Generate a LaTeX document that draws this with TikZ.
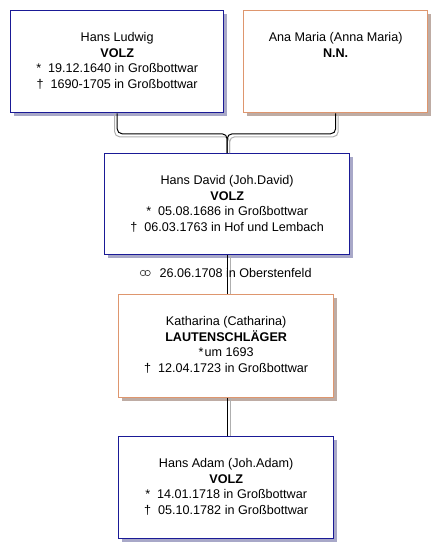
\documentclass[tikz,border=0pt]{standalone}
\usepackage{fontspec}
\setmainfont{Liberation Sans}
\usepackage{tikz}
\usetikzlibrary{calc, shadows}

\definecolor{boxblue}{RGB}{26,26,150}
\definecolor{boxorange}{RGB}{222,150,110}
\definecolor{shadeblue}{RGB}{168,168,200}
\definecolor{shadeorange}{RGB}{190,172,164}
\definecolor{linkgray}{RGB}{175,175,175}

\begin{document}
\begin{tikzpicture}[x=1pt, y=-1pt, font=\fontsize{12.6}{15.6}\selectfont,
  person/.style 2 args={draw, line width=1.3pt, fill=white, inner sep=0pt, anchor=north west,
    execute at begin node={\begin{minipage}[t][#2][t]{#1}\centering\vspace*{22pt}},
    execute at end node={\end{minipage}}},
  male/.style={draw=boxblue, drop shadow={shadow xshift=3.5pt, shadow yshift=-3.5pt, fill=shadeblue, opacity=1}},
  female/.style={draw=boxorange, drop shadow={shadow xshift=3.5pt, shadow yshift=-3.5pt, fill=shadeorange, opacity=1}},
  link/.style={line width=1pt, rounded corners=5pt},
  linkshade/.style={link, draw=linkgray},
  rings/.style={line width=0.6pt, black!80}]
  \useasboundingbox (0,0) rectangle (446,558);

  % parents
  \node[person={213pt}{102pt}, male]   (ludwig) at (10,10)
    {Hans Ludwig\\ \textbf{VOLZ}\\ {*}\ \ 19.12.1640 in Großbottwar\\ †\ \ 1690-1705 in Großbottwar};
  \node[person={184pt}{102pt}, female] (anamaria) at (243,10)
    {Ana Maria (Anna Maria)\\ \textbf{N.N.}};

  % couple
  \node[person={245pt}{101pt}, male]   (david) at (104,153)
    {Hans David (Joh.David)\\ \textbf{VOLZ}\\ {*}\ \ 05.08.1686 in Großbottwar\\ †\ \ 06.03.1763 in Hof und Lembach};
  \node[person={215pt}{103pt}, female] (katharina) at (118,294)
    {Katharina (Catharina)\\ \textbf{LAUTENSCHLÄGER}\\ {*}\kern1pt um 1693\\ †\ \ 12.04.1723 in Großbottwar};

  % child
  \node[person={215pt}{102pt}, male]   (adam) at (118,436)
    {Hans Adam (Joh.Adam)\\ \textbf{VOLZ}\\ {*}\ \ 14.01.1718 in Großbottwar\\ †\ \ 05.10.1782 in Großbottwar};

  \draw[linkshade] ([xshift=-2.5pt]ludwig.south) -- ++(0,23.5) -| ([xshift=2.5pt]david.north);
  \draw[linkshade] ([xshift=2.5pt]anamaria.south) -- ++(0,23.5) -| ([xshift=2.5pt]david.north);
  \draw[link] (ludwig.south) -- ++(0,20.5) -| (david.north);
  \draw[link] (anamaria.south) -- ++(0,20.5) -| (david.north);

  \draw[linkshade] ([xshift=3pt]david.south) -- ([xshift=3pt]david.south |- katharina.north);
  \draw[link] (david.south) -- (david.south |- katharina.north);
  \draw[linkshade] ([xshift=3pt]david.south |- katharina.south) -- ([xshift=3pt]david.south |- adam.north);
  \draw[link] (david.south |- katharina.south) -- (david.south |- adam.north);

  % marriage
  \node[anchor=west] (wedding) at (156,273) {26.06.1708 in Oberstenfeld};
  \draw[rings] ([xshift=-13pt]wedding.west) circle (2.7pt) ++(4.6pt,0) circle (2.7pt);
\end{tikzpicture}
\end{document}
